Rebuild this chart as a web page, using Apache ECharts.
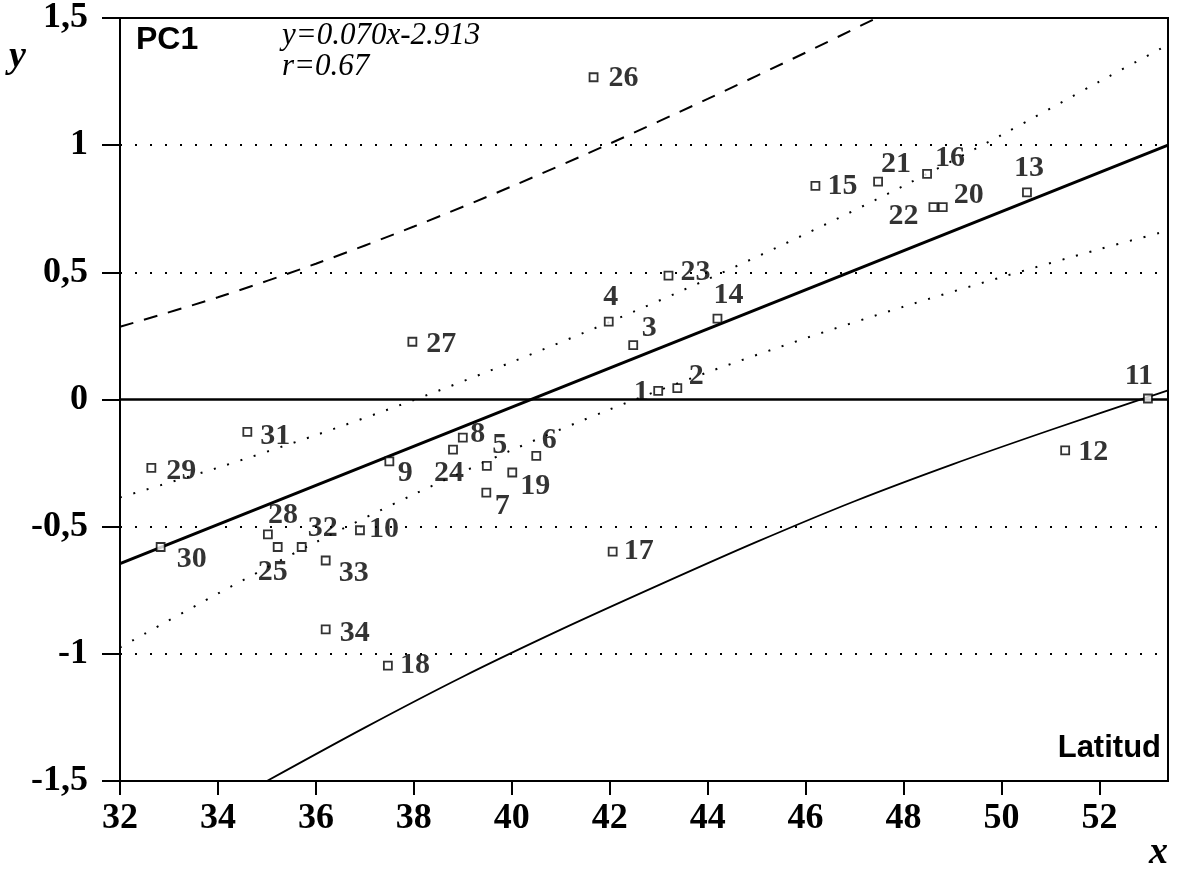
<!DOCTYPE html>
<html>
<head>
<meta charset="utf-8">
<script src="https://cdn.jsdelivr.net/npm/echarts@6/dist/echarts.min.js"></script>
<style>
  html, body { margin: 0; padding: 0; background: #fff; }
  #chart { width: 1177px; height: 880px; }
</style>
</head>
<body>
<div id="chart"></div>
<script>
// ---------- data ----------
const pointIds = [1,2,3,4,5,6,7,8,9,10,11,12,13,14,15,16,17,18,19,20,21,22,23,24,25,26,27,28,29,30,31,32,33,34];
const pointX = [42.99,43.38,42.48,41.98,39.49,40.50,39.48,39.00,37.50,36.90,52.99,51.30,50.52,44.20,46.20,48.48,42.06,37.47,40.01,48.80,47.48,48.61,43.20,38.80,35.22,41.67,37.97,35.02,32.64,32.83,34.60,35.71,36.20,36.20];
const pointY = [0.034,0.045,0.214,0.306,-0.261,-0.222,-0.366,-0.150,-0.243,-0.514,0.004,-0.200,0.814,0.318,0.840,0.887,-0.598,-1.046,-0.287,0.756,0.857,0.756,0.487,-0.197,-0.580,1.267,0.227,-0.530,-0.269,-0.580,-0.127,-0.580,-0.633,-0.904];

// regression line (as drawn)
const fitX = [32, 53.4];
const fitY = [-0.645, 1.0];

// upper dotted band
const upDotX = [32, 34, 36, 38, 40, 42, 44, 46, 48, 50, 52, 53.4];
const upDotY = [-0.385, -0.268, -0.14, -0.002, 0.147, 0.305, 0.473, 0.651, 0.84, 1.04, 1.25, 1.395];

// lower dotted band
const loDotX = [32, 34, 36, 38, 40, 42, 44, 46, 48, 50, 52, 53.4];
const loDotY = [-0.975, -0.763, -0.561, -0.373, -0.199, -0.039, 0.107, 0.241, 0.365, 0.481, 0.591, 0.664];

// upper dashed curve
const dashX = [32, 34, 36, 38, 40, 42, 44, 46, 47.5];
const dashY = [0.286, 0.402, 0.534, 0.68, 0.838, 1.006, 1.182, 1.364, 1.505];

// lower solid curve
const lowX = [35, 37, 39, 41, 43, 45, 47, 49, 51, 53, 53.4];
const lowY = [-1.5, -1.29, -1.09, -0.905, -0.73, -0.56, -0.40, -0.255, -0.12, 0.01, 0.036];

// horizontal reference lines
const dottedGridY = [1, 0.5, -0.5, -1];
const zeroLineY = [0];

// axis ticks
const xMin = 32, xMax = 53.4, xStep = 2;
const yMin = -1.5, yMax = 1.5, yStep = 0.5;

// texts
const panelTitle = 'PC1';
const equationText = 'y=0.070x-2.913';
const rText = 'r=0.67';
const variableText = 'Latitud';

// ---------- layout (label offsets in px, relative to marker centre) ----------
const labelOffsets = {
  1:[-17,1], 2:[19,-12], 3:[16,-17], 4:[2,-24], 5:[13,-21], 6:[13,-16], 7:[16,14],
  8:[15,-3], 9:[16,12], 10:[24,-1], 11:[-9,-22], 12:[28,2], 13:[2,-24], 14:[11,-23],
  15:[27,0], 16:[23,-16], 17:[26,0], 18:[27,0], 19:[23,14], 20:[26,-12], 21:[18,-17],
  22:[-30,9], 23:[27,-3], 24:[-4,24], 25:[-5,25], 26:[30,1], 27:[29,2], 28:[15,-19],
  29:[30,3], 30:[31,12], 31:[28,4], 32:[21,-19], 33:[28,13], 34:[29,4]
};

const zip = (a, b) => a.map((v, i) => [v, b[i]]);
const serif = '"Liberation Serif", "Times New Roman", serif';
const sans = '"Liberation Sans", Arial, sans-serif';

const chart = echarts.init(document.getElementById('chart'), null, { renderer: 'canvas' });

const scatterData = pointIds.map((id, i) => ({
  value: [pointX[i], pointY[i]],
  name: String(id),
  label: { offset: labelOffsets[id] }
}));

const fmtY = v => {
  const r = Math.round(v * 10) / 10;
  return String(r).replace('.', ',');
};

const option = {
  animation: false,
  backgroundColor: '#fff',
  grid: { left: 120, right: 9, top: 18, bottom: 99, show: true, borderColor: '#000', borderWidth: 2, backgroundColor: 'transparent' },
  xAxis: {
    type: 'value', min: xMin, max: xMax, interval: xStep,
    axisLine: { show: true, onZero: false, lineStyle: { color: '#000', width: 2 } },
    axisTick: { show: true, length: 14, lineStyle: { color: '#000', width: 2 } },
    axisLabel: {
      margin: 20, color: '#000', fontFamily: serif, fontWeight: 'bold', fontSize: 36,
      showMaxLabel: false,
      formatter: v => (Math.abs(v - Math.round(v)) < 1e-6 && Math.round(v) % 2 === 0) ? String(Math.round(v)) : ''
    },
    splitLine: { show: false }
  },
  yAxis: {
    type: 'value', min: yMin, max: yMax, interval: yStep,
    axisLine: { show: true, onZero: false, lineStyle: { color: '#000', width: 2 } },
    axisTick: { show: true, length: 18, lineStyle: { color: '#000', width: 2 } },
    axisLabel: { margin: 32, color: '#000', fontFamily: serif, fontWeight: 'bold', fontSize: 36, formatter: fmtY },
    splitLine: { show: false }
  },
  series: [
    {
      type: 'line', data: [], silent: true,
      markLine: {
        silent: true, symbol: 'none', label: { show: false },
        lineStyle: { color: '#000', width: 2, type: [2, 13] },
        data: dottedGridY.map(v => ({ yAxis: v }))
      }
    },
    {
      type: 'line', data: [], silent: true,
      markLine: {
        silent: true, symbol: 'none', label: { show: false },
        lineStyle: { color: '#000', width: 2.5, type: 'solid' },
        data: zeroLineY.map(v => ({ yAxis: v }))
      }
    },
    {
      type: 'line', data: zip(fitX, fitY), showSymbol: false, silent: true,
      lineStyle: { color: '#000', width: 3 }, z: 3
    },
    {
      type: 'line', data: zip(upDotX, upDotY), showSymbol: false, smooth: 0.3, silent: true,
      lineStyle: { color: '#000', width: 2, type: [2, 12] }, z: 3
    },
    {
      type: 'line', data: zip(loDotX, loDotY), showSymbol: false, smooth: 0.3, silent: true,
      lineStyle: { color: '#000', width: 2, type: [2, 12] }, z: 3
    },
    {
      type: 'line', data: zip(dashX, dashY), showSymbol: false, smooth: 0.3, silent: true,
      lineStyle: { color: '#000', width: 2, type: [14, 11] }, z: 3
    },
    {
      type: 'line', data: zip(lowX, lowY), showSymbol: false, smooth: 0.3, silent: true,
      lineStyle: { color: '#000', width: 1.8 }, z: 3
    },
    {
      type: 'scatter', data: scatterData, symbol: 'rect', symbolSize: 8, z: 5,
      itemStyle: { color: '#fff', borderColor: '#000', borderWidth: 1.8 },
      label: {
        show: true, position: 'inside', formatter: p => p.name,
        color: '#000', fontFamily: serif, fontWeight: 'bold', fontSize: 30
      }
    }
  ],
  graphic: [
    { type: 'text', left: 136, top: 24, z: 10,
      style: { text: panelTitle, fill: '#000', font: 'bold 32px ' + sans } },
    { type: 'text', left: 282, top: 20, z: 10,
      style: { text: equationText, fill: '#000', font: 'italic 31px ' + serif } },
    { type: 'text', left: 282, top: 51, z: 10,
      style: { text: rText, fill: '#000', font: 'italic 31px ' + serif } },
    { type: 'text', right: 16, top: 733, z: 10,
      style: { text: variableText, fill: '#000', font: 'bold 31px ' + sans } },
    { type: 'text', left: 9, top: 38, z: 10,
      style: { text: 'y', fill: '#000', font: 'italic bold 38px ' + serif } },
    { type: 'text', left: 1149, top: 834, z: 10,
      style: { text: 'x', fill: '#000', font: 'italic bold 38px ' + serif } }
  ]
};

chart.setOption(option);
</script>
</body>
</html>
